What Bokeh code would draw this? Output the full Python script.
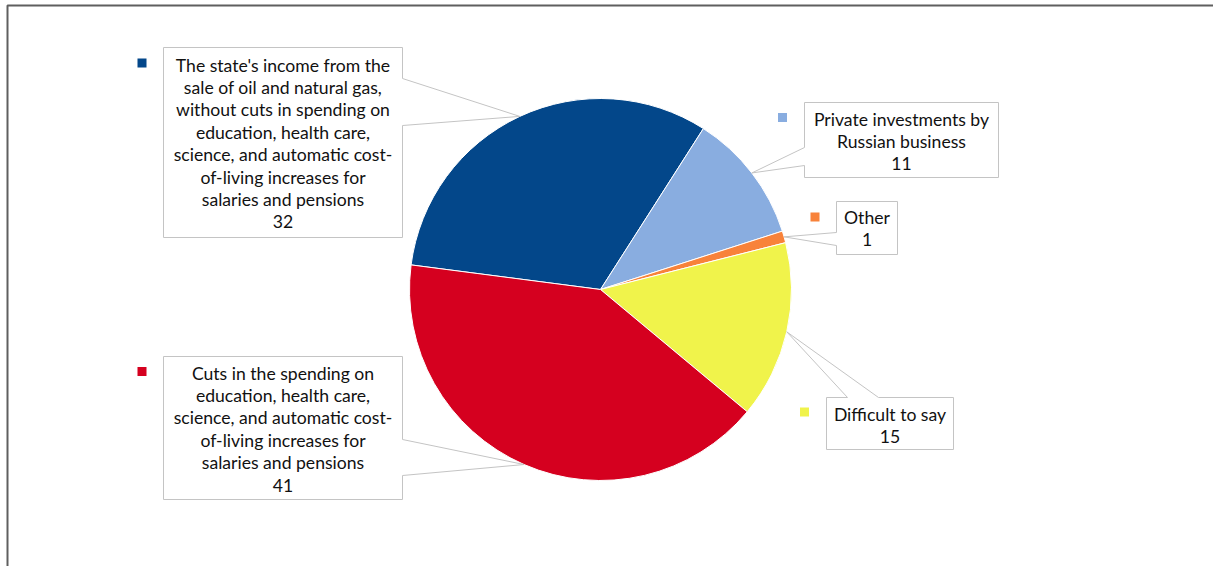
import numpy as np
from bokeh.plotting import figure
from bokeh.models import Range1d, ColumnDataSource
from bokeh.core.properties import value
from bokeh.embed import file_html
from bokeh.resources import INLINE

# ---------------- data ----------------
labels = [
    "The state's income from the\nsale of oil and natural gas,\nwithout cuts in spending on\neducation, health care,\nscience, and automatic cost-\nof-living increases for\nsalaries and pensions",
    "Private investments by\nRussian business",
    "Other",
    "Difficult to say",
    "Cuts in the spending on\neducation, health care,\nscience, and automatic cost-\nof-living increases for\nsalaries and pensions",
]
values = [32, 11, 1, 15, 41]
colors = ["#03478A", "#89ADE0", "#F8823A", "#F0F34B", "#D5001F"]

# ---------------- layout (pixel coords, y down) ----------------
W, H = 1213, 566
CX, CY, R = 600, 289, 191
FIRST_ANGLE = 277.4  # degrees clockwise from 12 o'clock

# callout boxes: left, top, right, bottom, pointer side, base start, base end
boxes = [
    (163, 47, 402, 237, "right", 78, 125),
    (804, 102, 998, 177, "left", 147, 165),
    (836, 201, 897, 254, "left", 232, 245),
    (826, 397, 953, 449, "top", 847, 878),
    (163, 356, 402, 499, "right", 439, 475),
]
first_line_y = [64.5, 118.5, 217, 413.5, 372.5]
markers = [(141.5, 62.5), (782, 117), (814.5, 216.5), (804, 411.5), (141.5, 371)]
LINE_H = 22.4


def fy(y):
    return H - y


p = figure(width=W, height=H, x_range=Range1d(0, W), y_range=Range1d(0, H),
           output_backend="svg", toolbar_location=None, min_border=0,
           x_axis_location=None, y_axis_location=None)
p.grid.visible = False
p.outline_line_color = None
p.background_fill_color = "white"
p.border_fill_color = "white"

# outer frame
p.quad(left=[7], right=[W + 20], top=[fy(5)], bottom=[-20],
       fill_color=None, line_color="#5F5F5F", line_width=2)

# pie
vals = np.array(values, dtype=float)
sweep = vals / vals.sum() * 360.0
starts = FIRST_ANGLE + np.concatenate([[0], np.cumsum(sweep)[:-1]])
ends = starts + sweep
mids = (starts + ends) / 2

src = ColumnDataSource(dict(
    x=[CX] * len(values), y=[fy(CY)] * len(values),
    start=np.radians(90 - starts), end=np.radians(90 - ends),
    color=colors))
p.wedge(x="x", y="y", radius=R, start_angle="start", end_angle="end",
        direction="clock", fill_color="color", line_color="white",
        line_width=1, source=src)

# callouts
xs, ys = [], []
for (L, T, Rr, B, side, b1, b2), m in zip(boxes, mids):
    th = np.radians(m)
    tx, ty = CX + R * np.sin(th), CY - R * np.cos(th)
    if side == "right":
        pts = [(L, T), (Rr, T), (Rr, b1), (tx, ty), (Rr, b2), (Rr, B), (L, B)]
    elif side == "left":
        pts = [(L, T), (Rr, T), (Rr, B), (L, B), (L, b2), (tx, ty), (L, b1)]
    else:
        pts = [(L, T), (b1, T), (tx, ty), (b2, T), (Rr, T), (Rr, B), (L, B)]
    xs.append([pt[0] for pt in pts])
    ys.append([fy(pt[1]) for pt in pts])
p.patches(xs=xs, ys=ys, fill_color="white", line_color="#C4C4C4", line_width=1)

# legend-like markers
p.rect(x=[m[0] for m in markers], y=[fy(m[1]) for m in markers],
       width=9, height=9, fill_color=colors, line_color=None)

# texts
tx_, ty_, tt_ = [], [], []
for lab, v, (L, T, Rr, B, *_), y0 in zip(labels, values, boxes, first_line_y):
    lines = lab.split("\n") + [str(v)]
    for i, ln in enumerate(lines):
        tx_.append((L + Rr) / 2)
        ty_.append(fy(y0 + i * LINE_H))
        tt_.append(ln)
p.text(x=tx_, y=ty_, text=tt_, text_font=value("Lato"), text_font_size="17.6px",
       text_align="center", text_baseline="middle", text_color="#111111")

open("out.html", "w").write(file_html(p, INLINE))
